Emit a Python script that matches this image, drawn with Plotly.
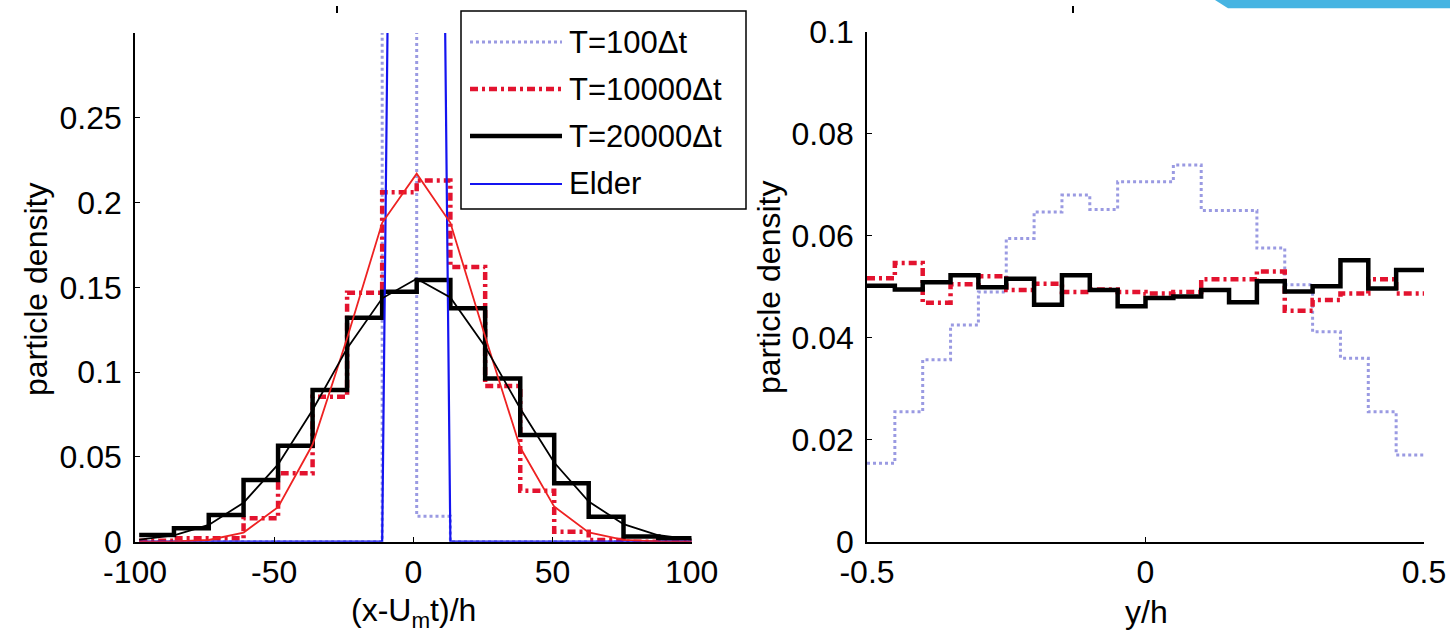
import plotly.graph_objects as go

W, H = 1450, 638

# ---------------- data : left panel (longitudinal distribution) ----------------
x_edges = [-98.5, -86.0, -73.5, -61.0, -48.6, -36.2, -23.8, -11.2, 1.2,
           13.3, 25.8, 38.4, 50.6, 63.0, 75.5, 88.0, 100.0]
t100_x = [0, 0, 0, 0, 0, 0, 0, 0.985, 0.015, 0, 0, 0, 0, 0, 0, 0]
t10000_x = [0.0005, 0.002, 0.002, 0.0138, 0.0403, 0.0855, 0.1468, 0.206,
            0.213, 0.162, 0.0918, 0.030, 0.0059, 0.001, 0.0, 0.0]
t20000_x = [0.004, 0.0079, 0.0157, 0.0364, 0.0566, 0.0894, 0.132, 0.1474,
            0.1543, 0.1376, 0.0963, 0.0629, 0.0344, 0.0147, 0.003, 0.002]
elder_x = [0, 0, 0, 0, 0, 0, 0, 0, 1.95, 0, 0, 0, 0, 0, 0, 0, 0]
fit10000_x = [0.0, 0.0002, 0.001, 0.0054, 0.0204, 0.0573, 0.120, 0.188, 0.217,
              0.188, 0.121, 0.0555, 0.0207, 0.0055, 0.0011, 0.0002, 0.0]
fit20000_x = [0.0012, 0.0037, 0.0099, 0.023, 0.0456, 0.0777, 0.114, 0.1435,
              0.155, 0.144, 0.115, 0.0785, 0.0467, 0.0237, 0.0103, 0.0038, 0.0013]

# ---------------- data : right panel (transverse distribution) ----------------
y_edges = [-0.5, -0.45, -0.4, -0.35, -0.3, -0.25, -0.2, -0.15, -0.1, -0.05, 0.0,
           0.05, 0.1, 0.15, 0.2, 0.25, 0.3, 0.35, 0.4, 0.45, 0.5]
t100_y = [0.0154, 0.0255, 0.0357, 0.0425, 0.049, 0.0595, 0.0647, 0.068, 0.0652,
          0.0706, 0.0706, 0.0739, 0.065, 0.065, 0.0576, 0.0504, 0.0412, 0.036,
          0.0255, 0.017]
t10000_y = [0.0517, 0.0547, 0.0469, 0.0505, 0.0521, 0.0494, 0.0506, 0.0490,
            0.0495, 0.0490, 0.0487, 0.0490, 0.0515, 0.0515, 0.0530, 0.0453,
            0.0474, 0.0487, 0.0515, 0.0487]
t20000_y = [0.0502, 0.0495, 0.0509, 0.0523, 0.0499, 0.0516, 0.0465, 0.0523,
            0.0494, 0.0462, 0.0478, 0.0481, 0.0494, 0.0470, 0.0511, 0.0491,
            0.0501, 0.0552, 0.0497, 0.0533]

series_names = ["T=100\u0394t", "T=10000\u0394t", "T=20000\u0394t", "Elder"]

left_xticks = [-100, -50, 0, 50, 100]
left_xticktext = ["-100", "-50", "0", "50", "100"]
left_yticks = [0, 0.05, 0.1, 0.15, 0.2, 0.25]
left_yticktext = ["0", "0.05", "0.1", "0.15", "0.2", "0.25"]
right_xticks = [-0.5, 0, 0.5]
right_xticktext = ["-0.5", "0", "0.5"]
right_yticks = [0, 0.02, 0.04, 0.06, 0.08, 0.1]
right_yticktext = ["0", "0.02", "0.04", "0.06", "0.08", "0.1"]

# ---------------- styles ----------------
FONT = "Liberation Sans, Arial, sans-serif"
FS = 32
C100 = "#9a9ae2"
C10000 = "#e3132f"
C20000 = "#000000"
CELDER = "#1414f0"
CFIT_R = "#ee2222"
styles = [
    dict(color=C100, width=3, dash="dot"),
    dict(color=C10000, width=4.5, dash="8px,4px,3px,4px"),
    dict(color=C20000, width=4.5),
    dict(color=CELDER, width=2.2),
]


def stairs(edges, vals):
    return list(edges), list(vals) + [vals[-1]]


fig = go.Figure()

# left panel
for vals, st, nm in [(t100_x, styles[0], series_names[0]),
                     (t10000_x, styles[1], series_names[1]),
                     (t20000_x, styles[2], series_names[2])]:
    xs, ys = stairs(x_edges, vals)
    fig.add_trace(go.Scatter(x=xs, y=ys, mode="lines", line=dict(shape="hv", **st),
                             name=nm, showlegend=False, xaxis="x", yaxis="y"))
fig.add_trace(go.Scatter(x=x_edges, y=elder_x, mode="lines", line=styles[3],
                         name=series_names[3], showlegend=False, xaxis="x", yaxis="y"))
fig.add_trace(go.Scatter(x=x_edges, y=fit10000_x, mode="lines",
                         line=dict(color=CFIT_R, width=1.8), showlegend=False,
                         xaxis="x", yaxis="y"))
fig.add_trace(go.Scatter(x=x_edges, y=fit20000_x, mode="lines",
                         line=dict(color="#000000", width=1.8), showlegend=False,
                         xaxis="x", yaxis="y"))

# right panel
for vals, st, nm in [(t100_y, styles[0], series_names[0]),
                     (t10000_y, styles[1], series_names[1]),
                     (t20000_y, styles[2], series_names[2])]:
    xs, ys = stairs(y_edges, vals)
    fig.add_trace(go.Scatter(x=xs, y=ys, mode="lines", line=dict(shape="hv", **st),
                             name=nm, showlegend=False, xaxis="x2", yaxis="y2"))


def px(p):
    return p / W


def py(p):
    return 1 - p / H


axis_common = dict(showgrid=False, zeroline=False, showline=True, linecolor="black",
                   linewidth=1.5, ticks="inside", ticklen=5, tickwidth=1.2,
                   tickcolor="black", tickfont=dict(family=FONT, size=FS, color="black"),
                   mirror=False, automargin=False)

fig.update_layout(
    template="none",
    width=W, height=H, margin=dict(l=0, r=0, t=0, b=0, pad=0, autoexpand=False),
    paper_bgcolor="white", plot_bgcolor="white",
    font=dict(family=FONT, size=FS, color="black"),
    xaxis=dict(domain=[px(135), px(691.7)], range=[-100, 100], tickvals=left_xticks,
               ticktext=left_xticktext, anchor="y", ticklabelstandoff=1, **axis_common),
    yaxis=dict(domain=[py(541.7), py(32.9)], range=[0, 0.3], tickvals=left_yticks,
               ticktext=left_yticktext, anchor="x", ticklabelstandoff=5, **axis_common),
    xaxis2=dict(domain=[px(867), px(1424)], range=[-0.5, 0.5], tickvals=right_xticks,
                ticktext=right_xticktext, anchor="y2", ticklabelstandoff=1, **axis_common),
    yaxis2=dict(domain=[py(541.7), py(32)], range=[0, 0.1], tickvals=right_yticks,
                ticktext=right_yticktext, anchor="x2", ticklabelstandoff=5, **axis_common),
    showlegend=False,
)

annotations = [
    dict(text="particle density", x=px(36), y=py(290), textangle=-90),
    dict(text="particle density", x=px(769), y=py(288), textangle=-90),
    dict(text="(x-U<sub>m</sub>t)/h", x=px(413), y=py(612)),
    dict(text="y/h", x=px(1146), y=py(612)),
]
for a in annotations:
    fig.add_annotation(xref="paper", yref="paper", showarrow=False,
                       xanchor="center", yanchor="middle",
                       font=dict(family=FONT, size=FS, color="black"), **a)

# manual legend (box, samples, labels)
LEG_L, LEG_R, LEG_T, LEG_B = 461, 746, 11, 209
fig.add_shape(type="rect", xref="paper", yref="paper", x0=px(LEG_L), x1=px(LEG_R),
              y0=py(LEG_B), y1=py(LEG_T), line=dict(color="black", width=1.5),
              fillcolor="white", layer="above")
row_y = [42, 89, 136, 184]
for i, nm in enumerate(series_names):
    fig.add_shape(type="line", xref="paper", yref="paper", x0=px(470), x1=px(562),
                  y0=py(row_y[i]), y1=py(row_y[i]), line=styles[i], layer="above")
    fig.add_annotation(xref="paper", yref="paper", x=px(567), y=py(row_y[i]),
                       text=nm, showarrow=False, xanchor="left", yanchor="middle",
                       font=dict(family=FONT, size=31, color="black"))

# decorative corner band (top right) and small top marks
fig.add_shape(type="path", xref="paper", yref="paper",
              path=f"M {px(1215)},{py(0)} L {px(1450)},{py(0)} L {px(1450)},{py(8.3)} L {px(1228)},{py(8.3)} Z",
              fillcolor="#46b4e2", line=dict(width=0), layer="above")
for mx in (337, 1073):
    fig.add_shape(type="line", xref="paper", yref="paper", x0=px(mx), x1=px(mx),
                  y0=py(6), y1=py(13), line=dict(color="black", width=2))

fig.write_html("out.html", config={"displayModeBar": False},
               post_script="document.body.style.margin='0px';")
